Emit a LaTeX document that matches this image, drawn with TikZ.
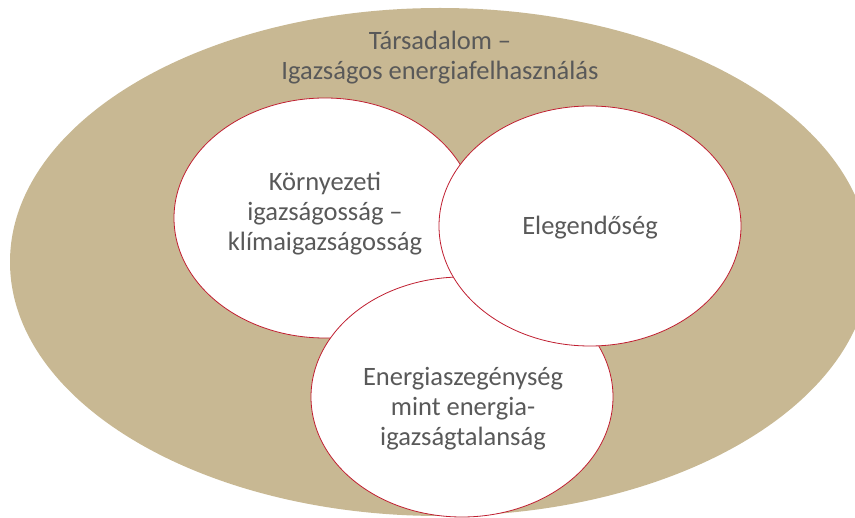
\documentclass[tikz,border=0pt]{standalone}
\usepackage{fontspec}
\setmainfont{Carlito}
\usepackage{xcolor}
\usetikzlibrary{shapes.geometric, positioning}
\definecolor{sand}{RGB}{200,184,147}
\definecolor{rimred}{RGB}{192,30,48}
\definecolor{textgray}{RGB}{89,89,89}

\begin{document}
\begin{tikzpicture}[x=1pt, y=-1pt,
            society/.style={ellipse, fill=sand, minimum width=860pt, minimum height=508pt, inner sep=0pt},
            circ/.style={ellipse, draw=rimred, line width=0.8pt, fill=white, minimum width=302pt, minimum height=240pt, inner sep=0pt},
            lbl/.style={align=center, text=textgray, font=\fontsize{26.5}{30}\selectfont}
        ]
            \useasboundingbox (0,0) rectangle (855,518);
            \clip (0,0) rectangle (855,518);

% Society
            \node[society] (society) at (440,262) {};
            \node[lbl] (society_text) at (440,58) {Társadalom –\\Igazságos energiafelhasználás};

% Circles (left, bottom, right)
            \node[circ] (climate) at (325,218) {};
            \node[circ] (poverty) at (462,397) {};
            \node[circ] (sufficiency) at (590,226) {};

% Texts
            \node[lbl] (climate_text) at (325,214) {Környezeti\\igazságosság –\\klímaigazságosság};
            \node[lbl] (sufficiency_text) at (590,228) {Elegendőség};
            \node[lbl] (poverty_text) at (463,409) {Energiaszegénység\\mint energia-\\igazságtalanság};

        \end{tikzpicture}
\end{document}
